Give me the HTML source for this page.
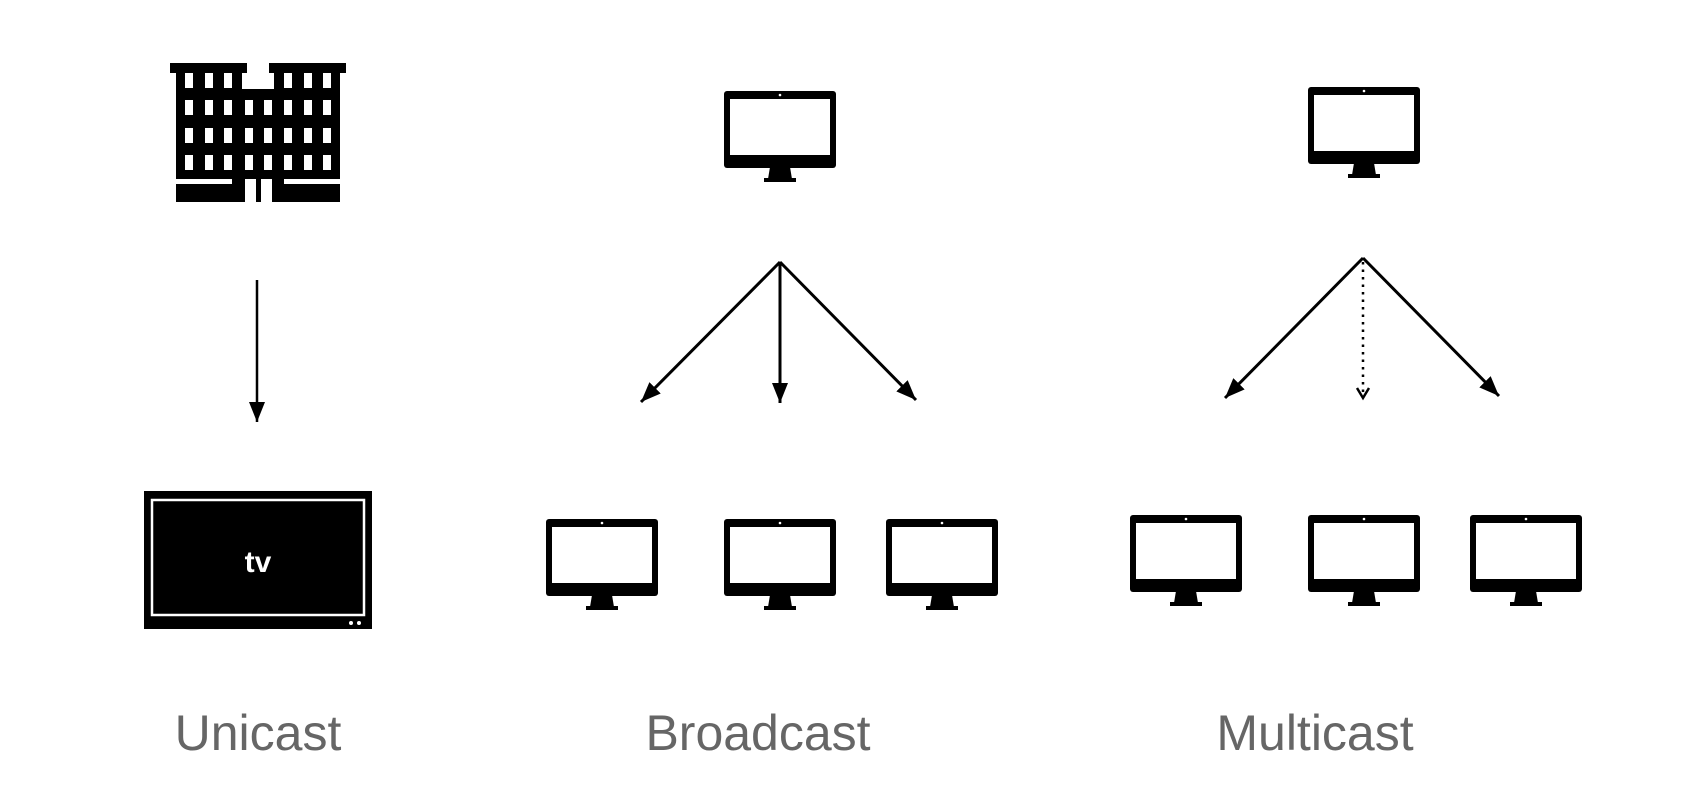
<!DOCTYPE html>
<html><head><meta charset="utf-8"><style>
html,body{margin:0;padding:0;background:#fff;}
svg{display:block;}
text{font-family:"Liberation Sans",Arial,sans-serif;}
</style></head><body>
<svg width="1688" height="804" viewBox="0 0 1688 804" xmlns="http://www.w3.org/2000/svg">
<defs>
<marker id="ah" markerUnits="userSpaceOnUse" markerWidth="24" markerHeight="24" refX="20" refY="10" orient="auto">
<path d="M0,2 L20,10 L0,18 Z" fill="#000"/>
</marker>
<marker id="ao" markerUnits="userSpaceOnUse" markerWidth="20" markerHeight="20" refX="12" refY="8" orient="auto">
<path d="M2,2 L12,8 L2,14" fill="none" stroke="#000" stroke-width="2.5"/>
</marker>
<g id="mon">
<rect x="0" y="0" width="112" height="77" rx="3" fill="#000"/>
<rect x="6" y="8" width="100" height="56" fill="#fff"/>
<circle cx="56" cy="4" r="1.3" fill="#fff"/>
<path d="M46,76 L66,76 L68,88 L44,88 Z" fill="#000"/>
<rect x="40" y="87" width="32" height="4" fill="#000"/>
</g>
</defs>

<!-- Building -->
<g fill="#000">
<rect x="170" y="63" width="77" height="10"/>
<rect x="269" y="63" width="77" height="10"/>
<rect x="176" y="73" width="66" height="106"/>
<rect x="274" y="73" width="66" height="106"/>
<rect x="242" y="89" width="32" height="90"/>
<rect x="176" y="184" width="69" height="18"/>
<rect x="232" y="179" width="13" height="6"/>
<rect x="256" y="179" width="5" height="23"/>
<rect x="272" y="184" width="68" height="18"/>
<rect x="272" y="179" width="12" height="6"/>
</g>
<g fill="#fff">
<rect x="185" y="73" width="8" height="15"/><rect x="205" y="73" width="8" height="15"/><rect x="224" y="73" width="8" height="15"/>
<rect x="284" y="73" width="8" height="15"/><rect x="304" y="73" width="8" height="15"/><rect x="323" y="73" width="8" height="15"/>
<g id="wrow">
<rect x="185" y="100" width="8" height="15"/><rect x="205" y="100" width="8" height="15"/><rect x="224" y="100" width="8" height="15"/><rect x="245" y="100" width="8" height="15"/>
<rect x="264" y="100" width="8" height="15"/><rect x="284" y="100" width="8" height="15"/><rect x="304" y="100" width="8" height="15"/><rect x="323" y="100" width="8" height="15"/>
</g>
<use href="#wrow" y="28"/>
<use href="#wrow" y="55"/>
</g>

<!-- Unicast arrow -->
<line x1="257" y1="280" x2="257" y2="422" stroke="#000" stroke-width="2.5" marker-end="url(#ah)"/>

<!-- TV -->
<rect x="144" y="491" width="228" height="138" fill="#000"/>
<rect x="152" y="500" width="212" height="115" fill="none" stroke="#fff" stroke-width="2.5"/>
<text x="258" y="572" fill="#fff" font-size="30" font-weight="bold" text-anchor="middle">tv</text>
<circle cx="351" cy="623" r="2" fill="#fff"/><circle cx="359" cy="623" r="2" fill="#fff"/>

<!-- Broadcast -->
<use href="#mon" x="724" y="91"/>
<line x1="780" y1="262" x2="641" y2="402" stroke="#000" stroke-width="3" marker-end="url(#ah)"/>
<line x1="780" y1="262" x2="780" y2="403" stroke="#000" stroke-width="3" marker-end="url(#ah)"/>
<line x1="780" y1="262" x2="916" y2="400" stroke="#000" stroke-width="3" marker-end="url(#ah)"/>
<use href="#mon" x="546" y="519"/>
<use href="#mon" x="724" y="519"/>
<use href="#mon" x="886" y="519"/>

<!-- Multicast -->
<use href="#mon" x="1308" y="87"/>
<line x1="1363" y1="258" x2="1225" y2="398" stroke="#000" stroke-width="3" marker-end="url(#ah)"/>
<line x1="1363" y1="262" x2="1363" y2="398" stroke="#000" stroke-width="2.5" stroke-dasharray="2.5,5" marker-end="url(#ao)"/>
<line x1="1363" y1="258" x2="1499" y2="396" stroke="#000" stroke-width="3" marker-end="url(#ah)"/>
<use href="#mon" x="1130" y="515"/>
<use href="#mon" x="1308" y="515"/>
<use href="#mon" x="1470" y="515"/>

<!-- Labels -->
<g fill="#666" font-size="50" text-anchor="middle">
<text x="258" y="750">Unicast</text>
<text x="758" y="750">Broadcast</text>
<text x="1315" y="750">Multicast</text>
</g>
</svg>
</body></html>
